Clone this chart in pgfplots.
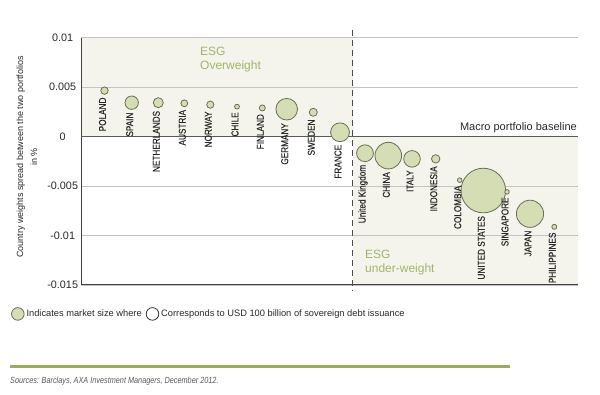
\documentclass[border=0pt]{standalone}
\usepackage{pgfplots}
\pgfplotsset{compat=1.18}
\usepackage{pgfplotstable}
\usepackage{fontspec}
\setmainfont{Liberation Sans}
\newfontfamily\narrowfont{Liberation Sans}[FakeStretch=0.82]
\newfontfamily\labelfont{Liberation Sans}[FakeStretch=0.82, FakeBold=0.2]
\definecolor{bubblefill}{RGB}{212,221,180}
\definecolor{bubbleedge}{RGB}{105,110,85}
\definecolor{shadecol}{RGB}{244,244,236}
\definecolor{gridgray}{RGB}{195,195,195}
\definecolor{esggreen}{RGB}{162,180,108}
\definecolor{rulegreen}{RGB}{150,174,88}
\definecolor{darktext}{RGB}{40,40,40}

% x, y = bubble centre; r = bubble radius; ly = top of its label
\pgfplotstableread[col sep=comma]{
x,y,r,ly,name
104.5,0.00465,3.7,0.00397,POLAND
131.7,0.00343,6.7,0.00245,SPAIN
158.3,0.00343,5.0,0.00262,NETHERLANDS
184.3,0.00337,3.4,0.00272,AUSTRIA
210.3,0.00323,3.6,0.00256,NORWAY
237.0,0.00303,2.4,0.00248,CHILE
262.3,0.00290,3.0,0.00229,FINLAND
286.7,0.00277,10.8,0.00138,GERMANY
313.3,0.00246,4.0,0.00175,SWEDEN
340.0,0.00044,9.4,-0.00081,FRANCE
365.0,-0.00168,8.4,-0.00283,United Kingdom
388.3,-0.00192,13.3,-0.00357,CHINA
412.0,-0.00225,8.3,-0.00339,ITALY
435.7,-0.00225,4.2,-0.00298,INDONESIA
459.7,-0.00440,2.3,-0.00494,COLOMBIA
483.3,-0.00545,22.3,-0.00801,UNITED STATES
507.0,-0.00559,2.3,-0.00613,SINGAPORE
530.0,-0.00780,13.6,-0.00948,JAPAN
554.3,-0.00912,2.5,-0.00968,PHILIPPINES
}\bubbles

\begin{document}
\begin{tikzpicture}
\begin{axis}[
  at={(81pt,109pt)}, anchor=south west,
  width=497pt, height=247.3pt, scale only axis,
  xmin=81, xmax=578, ymin=-0.015, ymax=0.01,
  axis x line*=bottom, axis y line*=left,
  axis line style={draw=black!75, line width=1pt, -},
  xtick=\empty,
  scaled y ticks=false,
  ytick={-0.015,-0.01,-0.005,0,0.005,0.01},
  yticklabels={-0.015,-0.01,-0.005,0,0.005,0.01},
  yticklabel style={anchor=center, xshift=-18.3pt, font=\fontsize{10.8}{12}\selectfont, text=darktext},
  major tick length=0pt,
  ymajorgrids, grid style={gridgray, line width=0.9pt},
  set layers, clip=false,
  ylabel={Country weights spread between the two portfolios\\in \%},
  ylabel style={align=center, font=\fontsize{9}{14}\selectfont, text=darktext, at={(axis description cs:-0.109,0.518)}, anchor=center},
  legend image code/.code={\filldraw[#1] (6.3pt,0pt) circle (6.3pt);},
  legend style={draw=none, fill=none, at={(axis description cs:-0.141,-0.117)}, anchor=west, legend columns=2, font=\fontsize{9.3}{11}\selectfont, text=darktext, inner sep=0pt, /tikz/every even column/.append style={column sep=2pt}},
]
\begin{pgfonlayer}{axis background}
\fill[shadecol] (axis cs:81,0) rectangle (axis cs:352.7,0.01);
\fill[shadecol] (axis cs:352.7,0) rectangle (axis cs:578,-0.015);
\end{pgfonlayer}
\draw[black!65, line width=1.6pt] (axis cs:81,0) -- (axis cs:578,0);
\draw[black!70, line width=1.1pt, dash pattern=on 6pt off 4pt] (axis cs:352.7,0.0108) -- (axis cs:352.7,-0.0155);

\addplot[scatter, only marks, mark=*, forget plot,
  scatter src=explicit,
  scatter/use mapped color={draw=bubbleedge, fill=bubblefill},
  visualization depends on={\thisrow{r} \as \rad},
  scatter/@pre marker code/.append style={/tikz/mark size=\rad},
  mark options={line width=0.8pt},
] table[x=x, y=y, meta=r]{\bubbles};

\addplot[only marks, mark=none, forget plot,
  point meta=explicit symbolic,
  nodes near coords,
  nodes near coords style={xshift=-2pt, rotate=90, anchor=east, inner sep=0pt, font=\labelfont\fontsize{10}{10}\selectfont, text=darktext},
] table[x=x, y=ly, meta=name]{\bubbles};

\addlegendimage{fill=bubblefill, draw=bubbleedge, line width=0.8pt}
\addlegendentry{Indicates market size where}
\addlegendimage{fill=white, draw=black!80, line width=0.8pt}
\addlegendentry{Corresponds to USD 100 billion of sovereign debt issuance}

\node[anchor=north west, inner sep=0pt, align=left, text=esggreen, font=\fontsize{12}{14}\selectfont] at (axis cs:200,0.00903) {ESG\\Overweight};
\node[anchor=north west, inner sep=0pt, align=left, text=esggreen, font=\fontsize{12}{14}\selectfont] at (axis cs:365,-0.01144) {ESG\\under-weight};
\node[anchor=base east, inner sep=0pt, font=\fontsize{11}{12}\selectfont, text=darktext] at (axis cs:577,0.0006) {Macro portfolio baseline};
\end{axis}
\fill[rulegreen] (10pt,25.8pt) rectangle (510pt,28.8pt);
\node[anchor=base west, inner sep=0pt, font=\narrowfont\itshape\fontsize{8.9}{10}\selectfont, text=black!65] at (10pt,11pt) {Sources: Barclays, AXA Investment Managers, December 2012.};
\path (0,0) rectangle (600pt,394pt);
\end{tikzpicture}
\end{document}
